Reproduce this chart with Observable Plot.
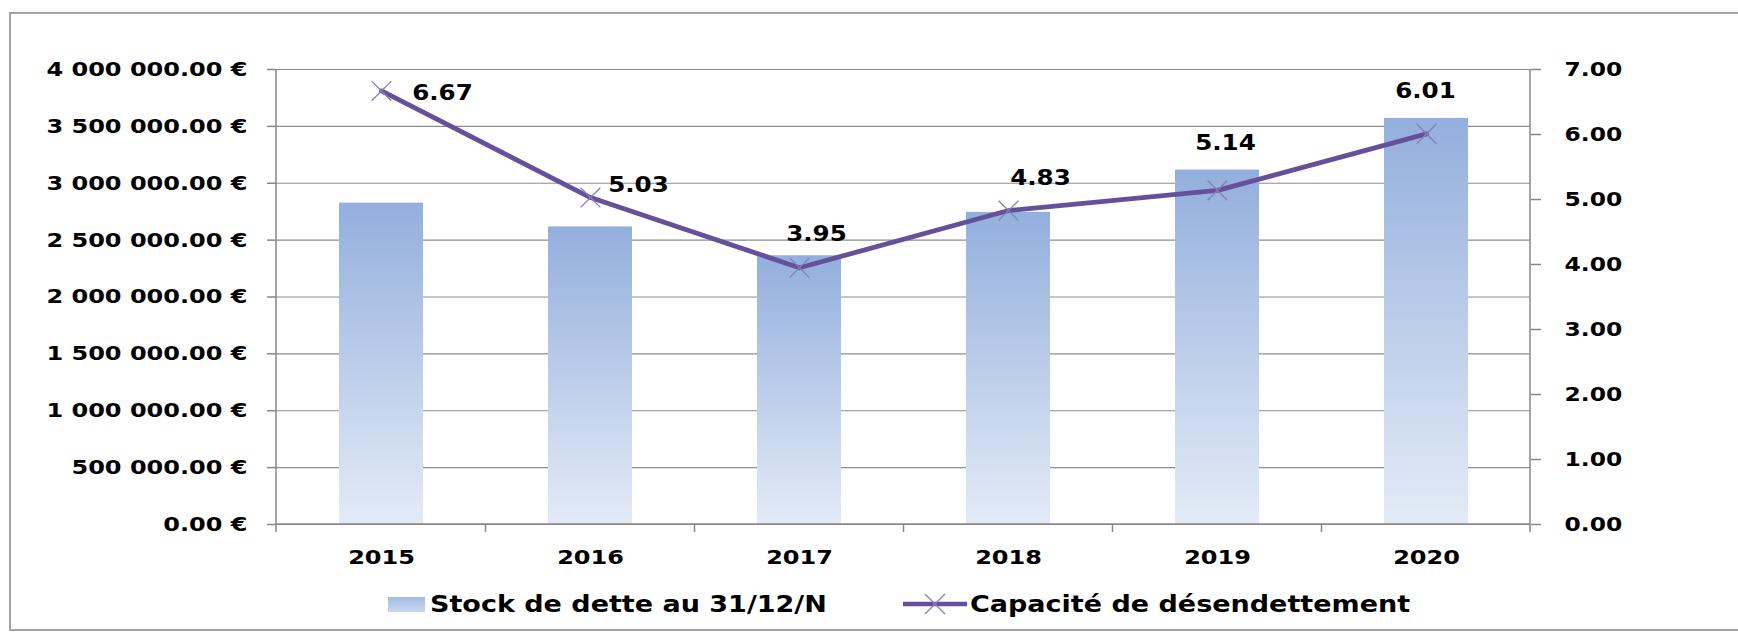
<!DOCTYPE html>
<html>
<head>
<meta charset="utf-8">
<script src="https://cdn.jsdelivr.net/npm/d3@7"></script>
<script src="https://cdn.jsdelivr.net/npm/@observablehq/plot@0.6"></script>
<style>
  html, body { margin: 0; padding: 0; background: #fff; }
  #wrap { position: relative; width: 1738px; height: 635px; overflow: hidden; background: #fff; }
  #frame { position: absolute; left: 9px; top: 12px; width: 1760px; height: 619px; border: 2px solid #a3a3a3; box-sizing: border-box; pointer-events: none; }
  #chart { position: absolute; left: 0; top: 0; }
  .leg { position: absolute; font-family: "DejaVu Sans", sans-serif; font-weight: bold; font-size: 22.5px; line-height: 1; color: #000; white-space: nowrap; transform: scaleX(1.2); transform-origin: left center; }
  .sw { position: absolute; }
</style>
</head>
<body>
<div id="wrap">
  <div id="chart"></div>
  <div id="frame"></div>
</div>
<script>
// ---- data ----
const years = ["2015", "2016", "2017", "2018", "2019", "2020"];
const stockDette = [2825000, 2616000, 2363000, 2744000, 3116000, 3570000];
const capacite = [6.67, 5.03, 3.95, 4.83, 5.14, 6.01];
const leftTicks = [0, 500000, 1000000, 1500000, 2000000, 2500000, 3000000, 3500000, 4000000];
const rightTicks = [0, 1, 2, 3, 4, 5, 6, 7];
const seriesNames = ["Stock de dette au 31/12/N", "Capacité de désendettement"];
// label nudges (px) for the ratio labels, as placed in the original
const labelDx = [61, 48, 17, 32, 8, -1];
const labelDy = [2, -12, -33, -32, -47, -42];

// ---- setup ----
const leftMax = leftTicks[leftTicks.length - 1];
const rightMax = rightTicks[rightTicks.length - 1];
const ratio = leftMax / rightMax;
const locale = d3.formatLocale({decimal: ".", thousands: " ", grouping: [3], currency: ["", " €"]});
const fmt = locale.format(",.2f");
const euro = d => fmt(d) + " €";

const rows = years.map((y, i) => ({year: y, stock: stockDette[i], cap: capacite[i]}));

const axisColor = "#878787";
const lineColor = "#65519b";
const markerColor = "#8a7db5";

function defsMark() {
  const defs = d3.create("svg:defs");
  const lg = defs.append("linearGradient").attr("id", "barGrad")
    .attr("x1", 0).attr("y1", 0).attr("x2", 0).attr("y2", 1);
  lg.append("stop").attr("offset", "0%").attr("stop-color", "#93afdd");
  lg.append("stop").attr("offset", "100%").attr("stop-color", "#e4ebf7");
  return defs.node();
}

function axisLines(index, scales, values, dims) {
  const {width, height, marginLeft, marginRight, marginTop, marginBottom} = dims;
  const x = scales.x;
  const bw = typeof x.bandwidth === "function" ? x.bandwidth() : x.bandwidth;
  const step = typeof x.step === "function" ? x.step() : bw / 0.4;
  const x0 = marginLeft, x1 = width - marginRight;
  const y0 = marginTop, y1 = height - marginBottom;
  const g = d3.create("svg:g").attr("stroke", axisColor).attr("stroke-width", 1.5).attr("fill", "none");
  g.append("line").attr("x1", x0).attr("x2", x0).attr("y1", y0).attr("y2", y1 + 8);
  g.append("line").attr("x1", x1).attr("x2", x1).attr("y1", y0).attr("y2", y1 + 8);
  g.append("line").attr("x1", x0).attr("x2", x1).attr("y1", y1).attr("y2", y1);
  const bounds = years.map(d => x(d) + bw / 2 - step / 2);
  for (const b of bounds.slice(1)) {
    g.append("line").attr("x1", b).attr("x2", b).attr("y1", y1).attr("y2", y1 + 8);
  }
  return g.node();
}

const labelMarks = years.map((yr, i) => Plot.text([rows[i]], {
  x: "year",
  y: d => d.cap * ratio,
  text: d => d.cap.toFixed(2),
  dx: labelDx[i],
  dy: labelDy[i],
  textAnchor: "middle",
  lineAnchor: "middle",
  fontSize: 20.5,
  fill: "#000"
}));

const chart = Plot.plot({
  width: 1738,
  height: 580,
  marginLeft: 276,
  marginRight: 208,
  marginTop: 69,
  marginBottom: 56,
  style: {fontFamily: "DejaVu Sans, sans-serif", fontWeight: "bold", fontSize: "19px", color: "#000", background: "transparent"},
  x: {domain: years, paddingInner: 0.6, paddingOuter: 0.3, label: null},
  y: {domain: [0, leftMax], nice: false, label: null},
  marks: [
    defsMark,
    Plot.gridY(leftTicks, {stroke: "#8c8c8c", strokeOpacity: 1, strokeWidth: 1.2}),
    Plot.barY(rows, {x: "year", y: "stock", fill: "url(#barGrad)"}),
    axisLines,
    Plot.line(rows, {x: "year", y: d => d.cap * ratio, stroke: lineColor, strokeWidth: 4.8, strokeLinejoin: "round", strokeLinecap: "round"}),
    Plot.dot(rows, {x: "year", y: d => d.cap * ratio, symbol: "times", r: 9, stroke: markerColor, strokeWidth: 1.3}),
    ...labelMarks,
    Plot.axisY(leftTicks, {anchor: "left", tickSize: 9, tickPadding: 20, tickFormat: euro, stroke: axisColor, strokeWidth: 1.5, fontSize: 20, label: null}),
    Plot.axisY(rightTicks.map(v => v * ratio), {anchor: "right", tickSize: 10, tickFormat: null, text: null, stroke: axisColor, strokeWidth: 1.5, label: null}),
    Plot.text(rightTicks, {y: v => v * ratio, text: v => v.toFixed(2), frameAnchor: "right", textAnchor: "start", lineAnchor: "middle", dx: 34, fontSize: 19.5, fill: "#000"}),
    Plot.axisX({anchor: "bottom", tickSize: 0, tickPadding: 25, fontSize: 20, label: null})
  ]
});

// Horizontal stretch of the lettering, as in the original picture
chart.querySelectorAll("text").forEach(t => {
  const tr = t.getAttribute("transform");
  if (tr) {
    t.setAttribute("transform", tr + " scale(1.2,1)");
  } else {
    const x = +(t.getAttribute("x") || 0), y = +(t.getAttribute("y") || 0);
    t.removeAttribute("x"); t.removeAttribute("y");
    t.setAttribute("transform", `translate(${x},${y}) scale(1.2,1)`);
  }
});

document.getElementById("chart").appendChild(chart);

// ---- legend (below the chart) ----
const wrap = document.getElementById("wrap");
const sw1 = document.createElement("div");
sw1.className = "sw";
Object.assign(sw1.style, {left: "388px", top: "597px", width: "37px", height: "15px", background: "linear-gradient(#a3bbe3, #c9d6ee)"});
wrap.appendChild(sw1);
const t1 = document.createElement("div");
t1.className = "leg";
t1.style.left = "430px"; t1.style.top = "593px";
t1.textContent = seriesNames[0];
wrap.appendChild(t1);

const sw2 = d3.create("svg").attr("class", "sw").attr("width", 66).attr("height", 26)
  .style("left", "902px").style("top", "591px");
sw2.append("line").attr("x1", 1).attr("x2", 65).attr("y1", 13).attr("y2", 13)
  .attr("stroke", lineColor).attr("stroke-width", 4.5);
sw2.append("path").attr("d", "M23,3L43,23M43,3L23,23").attr("stroke", markerColor).attr("stroke-width", 1.3).attr("fill", "none");
wrap.appendChild(sw2.node());
const t2 = document.createElement("div");
t2.className = "leg";
t2.style.left = "970px"; t2.style.top = "593px";
t2.textContent = seriesNames[1];
wrap.appendChild(t2);
</script>
</body>
</html>
